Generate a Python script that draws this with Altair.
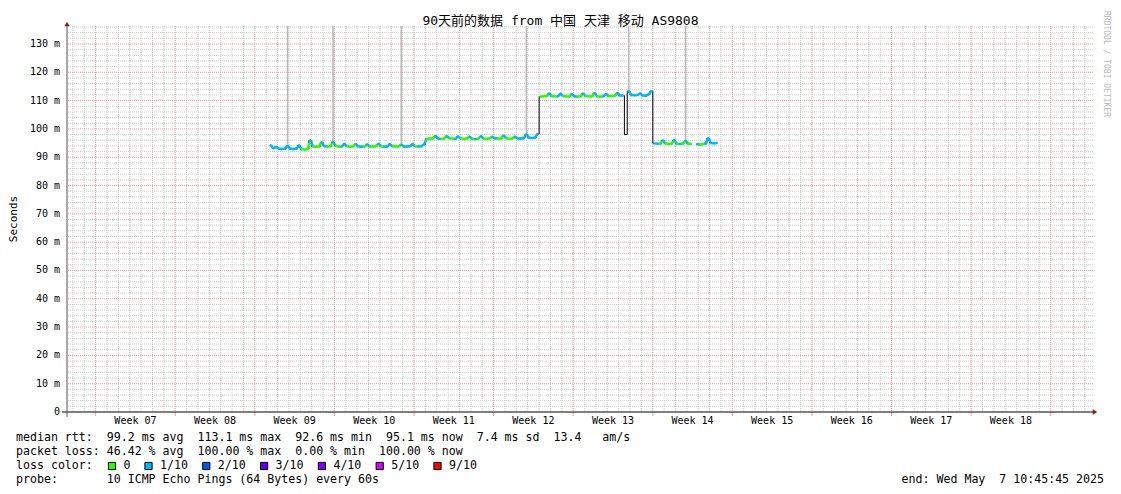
import altair as alt
import pandas as pd

# ---------------- data ----------------
# median rtt in ms, one sample every 6 hours starting at day 17.9 (None = no data)
rtt_ms = [
    # week 09 start, ~93 ms
    94.2, 93.2, 93.6, 93.0, 92.9, 93.0, 93.9, 93.0, 92.9, 93.0, 94.1, 92.8, 92.7, 92.9, 95.9, 93.8,
    # ~94 ms
    93.7, 93.8, 95.2, 93.9, 93.8, 93.9, 95.4, 94.0, 93.8, 93.8, 94.7, 93.9, 93.7, 93.8, 94.6, 93.8,
    93.7, 93.8, 94.5, 93.8, 93.8, 93.9, 94.7, 93.8, 93.7, 93.8, 94.6, 93.9, 93.8, 93.8, 94.4, 93.8,
    93.8, 93.9, 94.6, 93.9, 93.8, 93.9, 94.5,
    # ~96.6 ms
    96.5, 96.6, 96.6, 97.5, 96.6, 96.5, 96.6, 97.4, 96.7, 96.6, 96.5, 97.3, 96.6, 96.5, 96.6, 97.2,
    96.5, 96.4, 96.5, 97.4, 96.6, 96.5, 96.6, 97.2, 96.7, 96.6, 96.6, 97.6, 96.7, 96.5, 96.6, 97.2,
    96.6, 96.6, 96.7, 98.0, 96.9, 96.8, 96.9, 98.2,
    # ~111.5 ms
    111.4, 111.5, 111.6, 112.5, 111.6, 111.5, 111.5, 112.4, 111.6, 111.5, 111.4, 112.3, 111.5, 111.4,
    111.5, 112.5, 111.6, 111.5, 111.5, 112.6, 111.5, 111.4, 111.5, 112.3, 111.6, 111.6, 111.7, 112.7,
    111.8, 111.8, 98.0, 113.3, 112.0, 111.9, 112.0, 112.5, 111.8, 111.7, 112.2, 113.3,
    # ~94.8 ms
    94.9, 94.8, 94.8, 95.9, 94.9, 94.7, 94.8, 96.0, 94.8, 94.7, 94.8, 95.7, 94.8, 94.7, None, 94.6,
    94.5, 94.6, 94.8, 96.7, 95.0, 94.9, 95.0,
]
# packet loss per sample, in tenths
loss_tenths = [
    1, 1, 1, 1, 1, 1, 1, 1, 1, 1, 1, 0, 0, 0, 1, 0,
    0, 0, 1, 1, 0, 0, 1, 0, 0, 1, 1, 0, 0, 0, 1, 1, 1, 0, 1, 0,
    0, 0, 1, 0, 1, 1, 1, 0, 0, 0, 1, 1, 1, 1, 1, 0, 1, 1, 1,
    0, 0, 0, 1, 1, 0, 0, 1, 0, 0, 1, 1, 0, 0, 0, 1, 0, 1, 0, 1,
    0, 0, 0, 1, 1, 0, 0, 1, 0, 0, 0, 1, 1, 1, 1, 1, 1, 1, 1, 1,
    0, 0, 0, 1, 0, 0, 1, 1, 0, 0, 0, 1, 1, 0, 0, 1, 0, 0, 0, 1,
    0, 0, 1, 1, 0, 0, 0, 1, 1, 1, 1, 1, 1, 1, 1, 1, 1, 1, 1, 1,
    1, 1, 0, 1, 0, 0, 0, 1, 0, 1, 0, 1, 0, 0, 0, 1, 0, 0, 1, 1, 1, 1, 1,
]
first_sample_day = 17.9
sample_step_days = 0.25
# samples whose smoke reaches beyond the top of the graph
spike_days = [19.4, 23.4, 29.4, 40.4, 49.4, 54.4]

week_names = ["Week 07", "Week 08", "Week 09", "Week 10", "Week 11", "Week 12",
              "Week 13", "Week 14", "Week 15", "Week 16", "Week 17", "Week 18"]
first_week_boundary = 2.52  # day at which "Week 07" begins
y_label_values = [0, 10, 20, 30, 40, 50, 60, 70, 80, 90, 100, 110, 120, 130]

loss_values = [0, 1, 2, 3, 4, 5, 9]
loss_labels = ["0", "1/10", "2/10", "3/10", "4/10", "5/10", "9/10"]
loss_colors = ["#26ff00", "#00b8ff", "#0059ff", "#5e00ff", "#7e00ff", "#dd00ff", "#ff0000"]

title_text = "90天前的数据 from 中国 天津 移动 AS9808"
line_rtt = "median rtt:  99.2 ms avg  113.1 ms max  92.6 ms min  95.1 ms now  7.4 ms sd  13.4   am/s"
line_loss = "packet loss: 46.42 % avg  100.00 % max  0.00 % min  100.00 % now"
line_color = "loss color:"
line_probe = "probe:       10 ICMP Echo Pings (64 Bytes) every 60s"
line_end = "end: Wed May  7 10:45:45 2025"
watermark = "RRDTOOL / TOBI OETIKER"

# ---------------- layout / style ----------------
X_MAX = 90.24
Y_MAX = 136.36
W, H = 1026, 386
MONO = "DejaVu Sans Mono"
TITLE_FONT = "DejaVu Sans Mono, Noto Sans CJK SC"
ARROW = "#8b1a1a"

assert len(rtt_ms) == len(loss_tenths)
days = [round(first_sample_day + sample_step_days * i, 2) for i in range(len(rtt_ms))]


def nb(s):
    return s.replace(" ", "\u00a0")


xs = alt.Scale(domain=[0, X_MAX], nice=False, zero=False)
ys = alt.Scale(domain=[0, Y_MAX], nice=False, zero=False)
one = pd.DataFrame({"a": [0]})
color_of = dict(zip(loss_values, loss_colors))

rows, part = [], 0
for t, v, l in zip(days, rtt_ms, loss_tenths):
    if v is None:
        part += 1
        continue
    rows.append({"t": t, "v": v, "loss": l, "part": part})
series = pd.DataFrame(rows)

segs = []
for i in range(len(days) - 1):
    v1, v2 = rtt_ms[i], rtt_ms[i + 1]
    if v1 is None or v2 is None or abs(v2 - v1) > 4:
        continue
    segs.append({"t": days[i], "v": v1, "t2": days[i + 1], "v2": v2,
                 "c": color_of[loss_tenths[i]]})
segs = pd.DataFrame(segs)

spikes = pd.DataFrame({
    "t": spike_days,
    "v": [rtt_ms[days.index(d)] for d in spike_days],
    "top": [Y_MAX] * len(spike_days),
})

minor_v = pd.DataFrame({"t": [first_week_boundary + k for k in range(-2, 88) if k % 7 != 0]})
major_v = pd.DataFrame({"t": [first_week_boundary + 7 * k for k in range(13)]})
minor_h = pd.DataFrame({"v": [v for v in range(2, 137, 2) if v % 10 != 0]})
major_h = pd.DataFrame({"v": list(range(10, 131, 10))})
weeks = pd.DataFrame({"t": [first_week_boundary + 3.5 + 7 * k for k in range(len(week_names))],
                      "label": week_names})
ylabels = pd.DataFrame({"v": y_label_values,
                        "label": [("0\u00a0\u00a0" if v == 0 else f"{v}\u00a0m") for v in y_label_values]})


def X(f="t"):
    return alt.X(f"{f}:Q", scale=xs, axis=None)


def Y(f="v"):
    return alt.Y(f"{f}:Q", scale=ys, axis=None)


GRID = "#cbcbcb"
MGRID = "#f09a9a"
layers = []
# grid
layers.append(alt.Chart(minor_v).mark_rule(color=GRID, strokeWidth=1, strokeDash=[1, 1]).encode(x=X()))
layers.append(alt.Chart(minor_h).mark_rule(color=GRID, strokeWidth=1, strokeDash=[1, 1]).encode(y=Y()))
layers.append(alt.Chart(major_v).mark_rule(color=MGRID, strokeWidth=1, strokeDash=[1, 1]).encode(x=X()))
layers.append(alt.Chart(major_h).mark_rule(color=MGRID, strokeWidth=1, strokeDash=[1, 1]).encode(y=Y()))
layers.append(alt.Chart(major_v).mark_rule(color=MGRID, strokeWidth=1).encode(
    x=X(), y=alt.value(H), y2=alt.value(H + 4)))

# smoke spikes
layers.append(alt.Chart(spikes).mark_rule(color="#b8b8b8", strokeWidth=1.5).encode(
    x=X(), y=Y(), y2=alt.Y2("top:Q")))

# black median line
layers.append(alt.Chart(series).mark_line(interpolate="step", color="#000000", strokeWidth=1).encode(
    x=X(), y=Y(), detail="part:N"))

# loss-coloured median segments
layers.append(alt.Chart(segs).mark_rule(strokeWidth=2.4, strokeCap="round").encode(
    x=X(), x2=alt.X2("t2:Q"), y=Y(), y2=alt.Y2("v2:Q"),
    color=alt.Color("c:N", scale=None)))

# axes lines and arrows
layers.append(alt.Chart(one).mark_rule(color="#000000", strokeWidth=1).encode(
    x=alt.value(-5), x2=alt.value(W), y=alt.value(H)))
layers.append(alt.Chart(one).mark_rule(color="#555555", strokeWidth=1).encode(
    x=alt.value(0), y=alt.value(-3), y2=alt.value(H + 5)))
layers.append(alt.Chart(one).mark_point(shape="triangle-up", filled=True, color=ARROW, size=28, opacity=1).encode(
    x=alt.value(0), y=alt.value(-2)))
layers.append(alt.Chart(one).mark_point(shape="triangle-right", filled=True, color=ARROW, size=28, opacity=1).encode(
    x=alt.value(W + 2), y=alt.value(H)))

# axis labels
layers.append(alt.Chart(ylabels).mark_text(font=MONO, fontSize=10, color="#000000", align="right",
                                           baseline="middle").encode(
    x=alt.value(-7), y=Y(), text="label:N"))
layers.append(alt.Chart(weeks).mark_text(font=MONO, fontSize=10, color="#000000", baseline="middle").encode(
    x=X(), y=alt.value(H + 9), text="label:N"))


def txt(s, x, y, size, align="left", font=MONO, color="#000000", angle=0):
    return alt.Chart(one).mark_text(text=nb(s), font=font, fontSize=size, align=align,
                                    baseline="middle", color=color, angle=angle).encode(
        x=alt.value(x), y=alt.value(y))


layers.append(txt(title_text, 493.5, -5, 13, align="center", font=TITLE_FONT))
layers.append(txt("Seconds", -53, 193, 11, align="center", angle=270))
layers.append(txt(watermark, 1038.5, 38, 8, align="center", color="#b8b8b8", angle=90))

FS = 11.6
layers.append(txt(line_rtt, -51, 412.3, FS))
layers.append(txt(line_loss, -51, 425.8, FS))
layers.append(txt(line_color, -51, 440, FS))
layers.append(txt(line_probe, -51, 454, FS))
layers.append(txt(line_end, 1037, 454, FS, align="right"))

# loss colour legend
cx = 45.0
for lab, col in zip(loss_labels, loss_colors):
    layers.append(alt.Chart(one).mark_square(size=52, color=col, stroke="#000000", strokeWidth=1,
                                             opacity=1, filled=True).encode(
        x=alt.value(cx), y=alt.value(440)))
    layers.append(txt(lab, cx + 11.5, 440, FS))
    cx += (len(lab) + 4) * 7.1 + 1.0

chart = alt.layer(*layers).properties(
    width=W, height=H,
    padding={"left": 59, "top": 18, "right": 20, "bottom": 74},
    autosize=alt.AutoSizeParams(type="none"),
    background="#ffffff",
).configure_view(stroke=None)

chart.save("out.html", embed_options={"renderer": "svg", "actions": False})
